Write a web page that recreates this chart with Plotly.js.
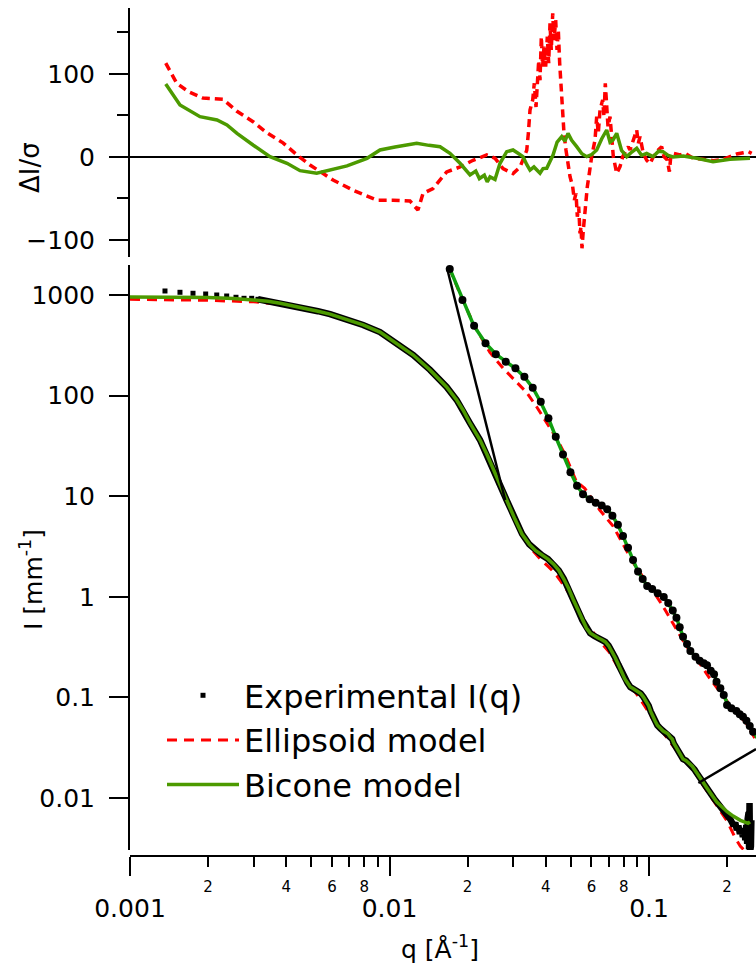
<!DOCTYPE html>
<html><head><meta charset="utf-8">
<script src="https://cdn.plot.ly/plotly-3.0.1.min.js"></script>
<style>html,body{margin:0;padding:0;background:#fff}</style>
</head><body><div id="chart" style="width:756px;height:971px"></div>
<script>
// ---------------- DATA ----------------
// Experimental I(q) (mm^-1) vs q (Å^-1)
const expQ = [0.001364,0.001558,0.001749,0.001957,0.002159,0.002358,0.002561,0.00275,0.002944,0.003113,
  0.0034,0.00379,0.00425,0.00472,0.0053,0.0059,0.00684,0.00791,0.00919,0.01067,0.01235,0.01433,0.01566,0.0166,0.01815,0.0192,
  0.02043,0.02233,0.0237,0.02588,0.02666,
  0.02833,0.0304,0.03243,0.03455,0.03658,0.03866,0.04079,0.04287,0.0449,0.04694,0.04899,0.05102,0.05311,0.05535,
  0.05741,0.05935,0.0616,0.06368,0.06584,0.06787,0.06987,0.07203,0.0741,0.0762,0.07834,0.08054,0.08266,0.08474,
  0.08713,0.08982,0.0929,0.09524,0.09766,0.09968,0.1015,0.1034,0.1057,0.1077,0.1108,0.1134,0.116,0.1181,0.1206,
  0.1228,0.1245,0.1272,0.1296,0.132,0.1352,0.139,0.1416,0.1442,0.147,0.1497,0.1525,0.1557,
  0.159,0.162,0.166,0.17,0.174,0.178,0.182,0.186,0.19,0.194,0.198,0.202,0.206,0.209,0.212,0.215,0.218,0.221,
  0.224,0.227,0.23,0.233,0.235,0.237,0.239,0.24,0.241,0.242,0.243,0.244,0.245,0.246,0.247,0.248];
const expI = [1096,1064,1040,1023,1000,977,949,927,927,906,
  870,830,785,737,690,645,573,504,428,331,253,180,143,122,90.4,72,
  53.1,36.2,26.3,15.3,12.9,
  9.04,5.96,4.21,3.325,2.868,2.596,2.375,2.121,1.829,1.514,1.211,0.9456,0.7436,0.5855,
  0.4887,0.4353,0.4071,0.3889,0.3745,0.3558,0.3264,0.2891,0.2482,0.2121,0.1797,0.1539,0.1392,0.1267,
  0.1216,0.1148,0.1092,0.1007,0.0911,0.0827,0.0726,0.064,0.058,0.0528,0.0489,0.0463,0.0447,0.0435,0.0405,
  0.0386,0.0349,0.0319,0.0292,0.0255,0.0244,0.0235,0.0225,0.0218,0.0206,0.0192,0.0178,0.0166,
  0.0152,0.014,0.0128,0.0117,0.0108,0.0099,0.0091,0.0085,0.0079,0.0074,0.0069,0.0065,0.0061,0.0058,0.0053,0.0057,0.0048,0.0053,
  0.0044,0.005,0.0041,0.0049,0.0038,0.0054,0.0035,0.0062,0.0033,0.0072,0.0031,0.0089,0.0029,0.008,0.0033,0.006];

// Bicone model
const bicQ = [0.001,0.0014,0.002,0.0025,0.003,0.0034,0.00379,0.00425,0.00472,0.0053,0.0059,0.00684,0.00791,0.00919,0.01067,0.01235,
  0.01433,0.01566,0.0166,0.01815,0.0192,0.02043,0.02233,0.0237,0.02588,0.02666,
  0.0283,0.0304,0.0324,0.0346,0.0366,0.0387,0.0408,0.0429,0.0449,0.0469,0.049,0.051,0.0531,0.0554,0.0574,0.0594,0.0616,0.0637,
  0.0658,0.0679,0.0699,0.072,0.0741,0.0762,0.0783,0.0805,0.0827,0.0847,0.0871,0.0898,0.0929,0.0952,0.0977,0.0997,0.1015,0.1034,
  0.1057,0.1077,0.1108,0.1134,0.116,0.1181,0.1206,0.1228,0.1245,0.1272,0.1296,0.132,0.1352,0.139,0.1416,0.1442,0.147,0.1497,
  0.1525,0.1557,0.17,0.1825,0.2,0.211,0.225,0.2407,0.245];
const bicI = [955,955,945,925,897,868,828,783,737,690,645,573,504,428,331,253,
  180,143,122,90.4,72,53.1,36.2,26.3,15.3,12.9,
  9.0,5.95,4.2,3.32,2.87,2.6,2.37,2.11,1.83,1.51,1.21,0.945,0.744,0.586,0.489,0.435,0.407,0.389,
  0.374,0.356,0.326,0.289,0.248,0.212,0.18,0.154,0.139,0.127,0.1216,0.1148,0.1092,0.1007,0.0911,0.0827,0.0726,0.064,
  0.058,0.0528,0.0489,0.0463,0.0447,0.0435,0.0405,0.0386,0.0352,0.0319,0.0292,0.0262,0.0244,0.0235,0.0225,0.0217,0.0206,0.0192,
  0.0178,0.0164,0.0118,0.0091,0.0073,0.0066,0.006,0.0056,0.0058];

// Ellipsoid model
const ellQ = [0.001,0.0014,0.002,0.003,0.004,0.005,0.0059,0.00684,0.00791,0.00919,0.01067,0.01235,0.01433,0.0166,0.0192,0.02233,
  0.0237,0.02588,0.0283,0.0304,0.0325,0.0354,0.0381,0.04075,0.04343,0.046,0.04889,0.05145,0.05377,0.05723,0.0599,0.06513,0.07011,0.0741,
  0.07834,0.08244,0.087,0.0921,0.0969,0.105,0.1134,0.1199,0.133,0.147,0.157,0.18,0.2,0.215,0.225,0.24];
const ellI = [905,900,885,855,800,715,640,571,504,428,331,253,180,122,72,36.2,
  26.3,15.3,9.0,6.0,4.2,2.94,2.375,2.015,1.714,1.401,1.107,0.911,0.739,0.516,0.472,0.352,0.284,0.223,
  0.174,0.145,0.121,0.098,0.08,0.057,0.0447,0.0365,0.0262,0.0199,0.015,0.0088,0.0059,0.004,0.0033,0.0028];

// Residuals ΔI/σ
const resEllQ = [0.001373,0.001513,0.001673,0.001911,0.002283,0.002584,0.002979,0.003373,0.003887,0.004401,0.004939,0.006058,
  0.007235,0.00895,0.01031,0.01199,0.01287,0.01346,0.01471,0.01661,0.0187,0.02099,0.0237,0.02551,0.02738,0.02992,0.03185,0.03379,
  0.03428,0.03479,0.03563,0.03614,0.03669,0.03712,0.03758,0.03802,0.03846,0.0389,0.03939,0.03998,0.04056,0.04106,0.04154,0.04202,
  0.04255,0.04304,0.04369,0.04421,0.04472,0.04527,0.0458,0.04633,0.04703,0.04787,0.04961,0.05079,0.05155,0.05233,0.05294,0.05359,
  0.05421,0.0547,0.05518,0.05583,0.05651,0.05717,0.05784,0.05888,0.06012,0.06193,0.06286,0.06376,0.06474,0.06629,0.06707,0.06785,
  0.0687,0.0695,0.07075,0.07183,0.07286,0.07508,0.07731,0.07918,0.08322,0.08449,0.087,0.08966,0.09095,0.09232,0.09506,0.09795,
  0.1009,0.1039,0.1086,0.1119,0.1142,0.1176,0.1198,0.1213,0.1241,0.1317,0.1376,0.1482,0.1619,0.1769,0.1934,0.2051,0.2177,0.2309,
  0.2414,0.2487];
const resEll = [113,89,79,71,69.5,55,42.5,29,17,2.4,-9.6,-27.7,
  -40,-52,-52,-53,-64,-44,-38,-18,-12,-4,2.4,-1.6,-14,-20,-12,8,
  28.5,56.6,68.7,88.8,60.2,96.4,116.5,92.4,144.9,108.8,132.9,108.8,144.9,112.9,161,128.9,
  173,140.9,165,128.9,153,112.9,88.8,56.6,28.5,8.4,-23.7,-35.7,-51.8,-43.8,-71.9,-59.9,
  -92,-84,-110,-88,-67.9,-51.8,-35.7,-19.7,0.4,20.5,48.6,28.5,56.6,68.7,48.6,88.8,
  56.6,36.5,48.6,20.5,0.4,-19.7,-11.6,0.4,12.4,8.4,20.5,32.5,16.5,24.5,4.4,-4,
  -8,0.4,8.4,12.4,0.4,-3.6,-17.7,0.4,4.4,2.4,4.4,-1.6,-2.8,-4.4,-2.8,0.4,3.6,5.2,
  6.4,4.4];
const resBicQ = [0.001373,0.001558,0.001861,0.002164,0.002364,0.002584,0.002979,0.003463,0.004027,0.004521,0.005242,0.005743,
  0.006859,0.008189,0.009193,0.0105,0.01273,0.0142,0.01566,0.0171,0.0187,0.02043,0.0215,0.0222,0.0232,0.0238,0.0244,0.0255,0.02666,0.02829,
  0.02992,0.03128,0.03269,0.03379,0.03479,0.03602,0.03802,0.03905,0.04035,0.04267,0.04425,0.04609,0.04743,0.04874,0.05035,0.05265,
  0.05512,0.05753,0.06012,0.06286,0.06575,0.0687,0.07075,0.07266,0.07508,0.07836,0.08204,0.08583,0.08966,0.09364,0.09795,0.1036,
  0.1089,0.1132,0.1185,0.1238,0.1355,0.1527,0.1765,0.2051,0.245];
const resBic = [88,62.7,48.6,44.6,38.6,28.5,14.5,0.4,-7.6,-16.5,-19.6,-16.5,
  -10.8,-1.6,8.4,12,16.5,14,12.4,4.4,-7.6,-21.7,-17,-26,-22,-30,-24,-27,-7.6,6.4,
  8.4,4.5,0.4,-9,-15.7,-12,-19.6,-14,-13.6,2.4,18,24.5,19,28.5,20,12.4,
  4,0.4,3,8.4,22,32.5,18,20.5,28.5,8,0.4,6,10.4,2,4.4,0.4,
  7,6.4,2,0,1.2,-1.6,-5.6,-2.8,-1.6];

// Zoom window shown magnified (q range and I range)
const zoomQ = [0.0279, 0.155];
const zoomI = [0.0141, 9.17];

// Tick labels
const yBotTickVals = [0.01, 0.1, 1, 10, 100, 1000];
const yBotTickText = ['0.01', '0.1', '1', '10', '100', '1000'];
const xMajorVals = [0.001, 0.01, 0.1];
const xMajorText = ['0.001', '0.01', '0.1'];
const xMinorLabVals = [0.002,0.004,0.006,0.008,0.02,0.04,0.06,0.08,0.2];
const xMinorLabText = ['2','4','6','8','2','4','6','8','2'];
const xMinorVals = [0.003,0.005,0.007,0.009,0.03,0.05,0.07,0.09];

// ---------------- LAYOUT GEOMETRY ----------------
const W = 756, H = 971;
const M = {l: 130, r: 0, t: 8, b: 115};
const PW = W - M.l - M.r, PH = H - M.t - M.b;
const fx = px => (px - M.l) / PW;
const fy = py => (H - M.b - py) / PH;
const FONT = 'DejaVu Sans, Verdana, sans-serif';
const GREEN = '#4c9a00', GREEN2 = '#10a010', RED = '#ff0000';

const xr = [-3, Math.log10(0.2584)];
const y2r = [Math.log10(0.00304), Math.log10(1987)];
const y2dom = [fy(850), fy(265)];
const x3dom = [fx(447), 1];
const y3dom = [fy(749), fy(268)];
const x3r = zoomQ.map(Math.log10);
const y3r = zoomI.map(Math.log10);

function insetToMain(q, I) {
  const px = x3dom[0] + (Math.log10(q) - x3r[0]) / (x3r[1] - x3r[0]) * (x3dom[1] - x3dom[0]);
  const py = y3dom[0] + (Math.log10(I) - y3r[0]) / (y3r[1] - y3r[0]) * (y3dom[1] - y3dom[0]);
  const lq = xr[0] + px * (xr[1] - xr[0]);
  const lI = y2r[0] + (py - y2dom[0]) / (y2dom[1] - y2dom[0]) * (y2r[1] - y2r[0]);
  return [Math.pow(10, lq), Math.pow(10, lI)];
}
const cA = insetToMain(zoomQ[0], zoomI[1]);
const cB = insetToMain(zoomQ[1], zoomI[0]);

const nSq = 10; // number of low-q points drawn as separate squares
const inWin = expQ.map((q, i) => i).filter(i => expQ[i] >= zoomQ[0] && expQ[i] <= zoomQ[1]);

const traces = [
  // residual panel
  {x: resEllQ, y: resEll, xaxis: 'x2', yaxis: 'y', mode: 'lines', showlegend: false,
   line: {color: RED, width: 3.5, dash: '8px,5px'}},
  {x: resBicQ, y: resBic, xaxis: 'x2', yaxis: 'y', mode: 'lines', showlegend: false,
   line: {color: GREEN, width: 3.5}},
  // main panel
  {x: ellQ, y: ellI, xaxis: 'x', yaxis: 'y2', mode: 'lines', name: 'Ellipsoid model', legendrank: 2,
   line: {color: RED, width: 3, dash: '10px,7px'}},
  {x: expQ.slice(nSq - 1), y: expI.slice(nSq - 1), xaxis: 'x', yaxis: 'y2', mode: 'lines', showlegend: false,
   line: {color: '#000', width: 6.5}},
  {x: expQ.slice(0, nSq), y: expI.slice(0, nSq), xaxis: 'x', yaxis: 'y2', mode: 'markers', name: 'Experimental I(q)', legendrank: 1,
   marker: {symbol: 'square', size: 5, color: '#000'}},
  {x: bicQ, y: bicI, xaxis: 'x', yaxis: 'y2', mode: 'lines', name: 'Bicone model', legendrank: 3,
   line: {color: GREEN, width: 3.5}},
  // zoom connectors
  {x: [zoomQ[0], cA[0], null, zoomQ[1], cB[0]], y: [zoomI[1], cA[1], null, zoomI[0], cB[1]],
   xaxis: 'x', yaxis: 'y2', mode: 'lines', showlegend: false, line: {color: '#000', width: 2.5}},
  // inset
  {x: ellQ, y: ellI, xaxis: 'x3', yaxis: 'y3', mode: 'lines', showlegend: false,
   line: {color: RED, width: 3, dash: '9px,6px'}},
  {x: bicQ, y: bicI, xaxis: 'x3', yaxis: 'y3', mode: 'lines', showlegend: false,
   line: {color: GREEN2, width: 3.5}},
  {x: inWin.map(i => expQ[i]), y: inWin.map(i => expI[i]), xaxis: 'x3', yaxis: 'y3', mode: 'markers', showlegend: false,
   cliponaxis: false, marker: {symbol: 'circle', size: 8, color: '#000'}},
  // carriers for minor x ticks
  {x: [], y: [], xaxis: 'x4', yaxis: 'y2', mode: 'markers', showlegend: false, hoverinfo: 'skip'},
  {x: [], y: [], xaxis: 'x5', yaxis: 'y2', mode: 'markers', showlegend: false, hoverinfo: 'skip'}
];

const axBase = {showgrid: false, zeroline: false, ticks: 'outside', tickwidth: 2, tickcolor: '#000',
  showline: true, linewidth: 2, linecolor: '#000', tickfont: {family: FONT, size: 25, color: '#000'}};
const minorAx = {type: 'log', range: xr, overlaying: 'x', anchor: 'free', position: 0, side: 'bottom',
  showgrid: false, zeroline: false, showline: false, ticks: 'outside', ticklen: 10, tickwidth: 2, tickcolor: '#000',
  tickmode: 'array', tickfont: {family: FONT, size: 15, color: '#000'}};

const layout = {
  width: W, height: H, margin: M,
  paper_bgcolor: '#fff', plot_bgcolor: 'rgba(0,0,0,0)',
  font: {family: FONT, color: '#000'},
  showlegend: true,
  legend: {x: fx(162), y: fy(668), xanchor: 'left', yanchor: 'top', bgcolor: 'rgba(0,0,0,0)',
    font: {family: FONT, size: 32, color: '#000'}, tracegroupgap: 0, itemwidth: 72},
  xaxis: Object.assign({}, axBase, {type: 'log', range: xr, domain: [0, 1], anchor: 'free', position: 0,
    tickmode: 'array', tickvals: xMajorVals, ticktext: xMajorText, ticklen: 19, ticklabelstandoff: 11}),
  xaxis4: Object.assign({}, minorAx, {tickvals: xMinorLabVals, ticktext: xMinorLabText, ticklabelstandoff: 7}),
  xaxis5: Object.assign({}, minorAx, {tickvals: xMinorVals, showticklabels: false}),
  xaxis2: {type: 'log', range: xr, domain: [0, 1], anchor: 'y', visible: false},
  yaxis: Object.assign({}, axBase, {domain: [fy(257), 1], range: [-120.5, 179.5], anchor: 'x2',
    tickmode: 'linear', tick0: 0, dtick: 100, ticklen: 19, ticklabelstandoff: 9,
    zeroline: true, zerolinecolor: '#000', zerolinewidth: 2,
    minor: {ticks: 'outside', ticklen: 11, tickwidth: 2, tickcolor: '#000', tick0: 0, dtick: 50, showgrid: false}}),
  yaxis2: Object.assign({}, axBase, {type: 'log', domain: y2dom, range: y2r, anchor: 'x',
    tickmode: 'array', tickvals: yBotTickVals, ticktext: yBotTickText, ticklen: 19, ticklabelstandoff: 9}),
  xaxis3: {type: 'log', domain: x3dom, range: x3r, anchor: 'y3', visible: false},
  yaxis3: {type: 'log', domain: y3dom, range: y3r, anchor: 'x3', visible: false},
  annotations: [
    {text: 'ΔI/σ', xref: 'paper', yref: 'paper', x: fx(30), y: fy(168), textangle: -90, showarrow: false,
     xanchor: 'center', yanchor: 'middle', font: {family: FONT, size: 26, color: '#000'}},
    {text: 'I [mm<sup>-1</sup>]', xref: 'paper', yref: 'paper', x: fx(31), y: fy(580), textangle: -90, showarrow: false,
     xanchor: 'center', yanchor: 'middle', font: {family: FONT, size: 25, color: '#000'}},
    {text: 'q [Å<sup>-1</sup>]', xref: 'paper', yref: 'paper', x: fx(440), y: fy(947), showarrow: false,
     xanchor: 'center', yanchor: 'middle', font: {family: FONT, size: 25, color: '#000'}}
  ]
};

Plotly.newPlot('chart', traces, layout, {staticPlot: true, displayModeBar: false});
</script></body></html>
